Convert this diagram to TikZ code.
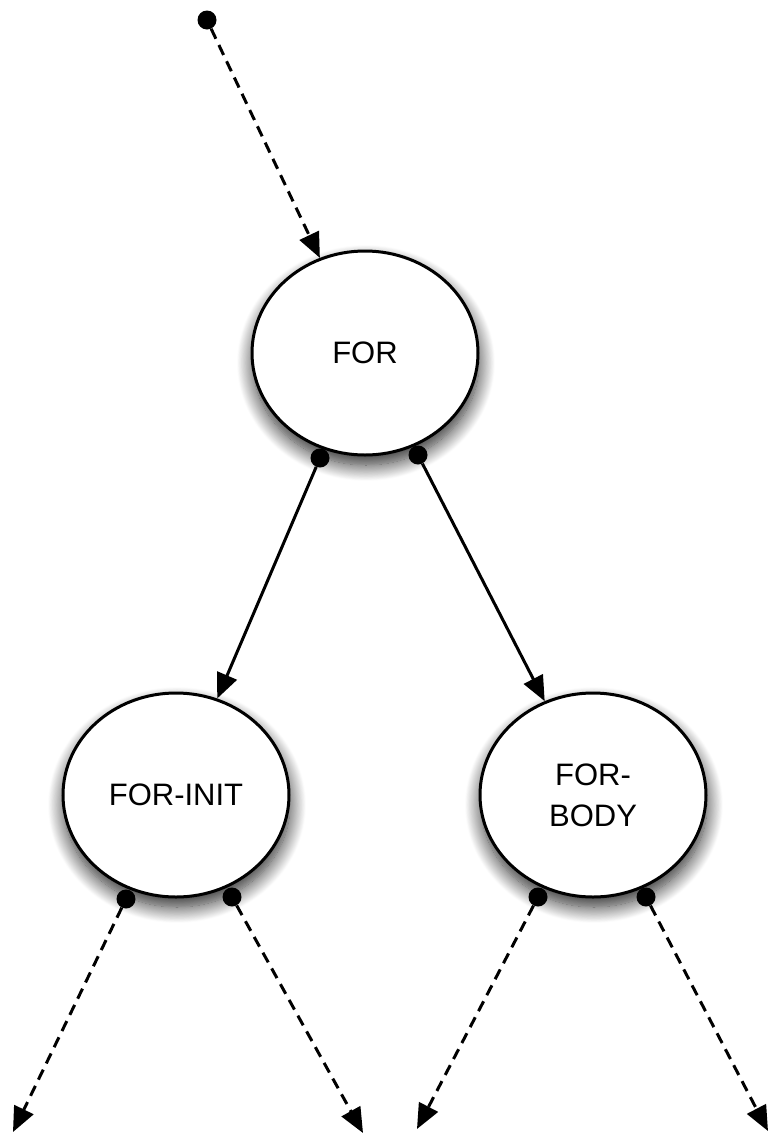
\documentclass[tikz,border=0pt]{standalone}
\usepackage{fontspec}
\setmainfont{Liberation Sans}
\usetikzlibrary{shapes.geometric,arrows.meta,shadows.blur}

\tikzset{
  state/.style={ellipse, draw=black, line width=3pt, fill=white,
    minimum width=226pt, minimum height=204pt, inner sep=0pt,
    align=center, font=\fontsize{31}{41}\selectfont,
    blur shadow={shadow xshift=1pt, shadow yshift=-10pt,
      shadow blur radius=16pt, shadow blur steps=20, shadow opacity=85}},
  port/.style={circle, fill=black, inner sep=0pt, minimum size=19pt},
  link/.style={line width=3pt, -{Triangle[length=25pt,width=21pt]}},
  optlink/.style={link, dash pattern=on 11pt off 7pt},
}

\begin{document}
\begin{tikzpicture}[x=1pt, y=-1pt]
  \useasboundingbox (0,0) rectangle (769,1136);

  % tree nodes
  \node[state] (for)  at (365,353) {FOR};
  \node[state] (init) at (176,795) {FOR-INIT};
  \node[state] (body) at (593,795) {FOR-\\BODY};

  % connection ports
  \node[port] (entry) at (207,20) {};
  \node[port] (forL)  at (320,458) {};
  \node[port] (forR)  at (418,455) {};
  \node[port] (initL) at (126,899) {};
  \node[port] (initR) at (232,897) {};
  \node[port] (bodyL) at (538,897) {};
  \node[port] (bodyR) at (646,897) {};

  % open ends below the tree
  \coordinate (o1) at (13,1132);
  \coordinate (o2) at (363,1133);
  \coordinate (o3) at (417,1129);
  \coordinate (o4) at (768,1131);

  % connectors
  \draw[optlink] (entry) -- (for);
  \draw[link] (forL) -- (init);
  \draw[link] (forR) -- (body);
  \draw[optlink] (initL) -- (o1);
  \draw[optlink] (initR) -- (o2);
  \draw[optlink] (bodyL) -- (o3);
  \draw[optlink] (bodyR) -- (o4);
\end{tikzpicture}
\end{document}
